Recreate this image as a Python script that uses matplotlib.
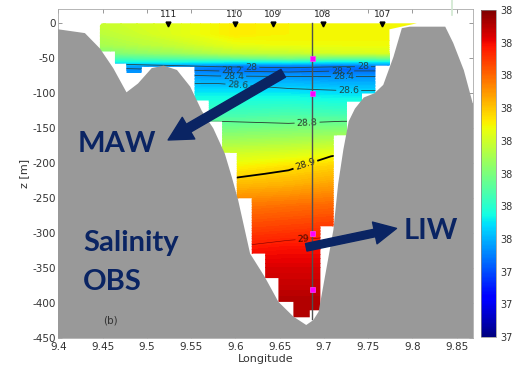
import numpy as np
import matplotlib
matplotlib.use('Agg')
import matplotlib.pyplot as plt
from matplotlib.patches import Polygon
from matplotlib.colors import Normalize
from matplotlib.cm import ScalarMappable
from matplotlib.lines import Line2D

plt.rcParams['axes.unicode_minus'] = False
plt.rcParams['font.family'] = ['DejaVu Sans']

# ---------------- data ----------------
grid_lon = [9.44, 9.53, 9.60, 9.66, 9.72, 9.82]
grid_z = [0, -15, -30, -42, -50, -55, -60, -66, -75, -90, -105, -130, -160,
          -185, -205, -230, -260, -290, -320, -350, -390, -440]
salinity = [
    [38.29, 38.32, 38.36, 38.35, 38.35, 38.35],
    [38.27, 38.32, 38.36, 38.35, 38.35, 38.35],
    [38.25, 38.29, 38.33, 38.34, 38.34, 38.34],
    [38.20, 38.24, 38.28, 38.29, 38.31, 38.32],
    [38.13, 38.15, 38.17, 38.19, 38.17, 38.18],
    [38.07, 38.07, 38.06, 38.07, 38.05, 38.06],
    [38.00, 37.98, 37.96, 37.96, 37.95, 37.97],
    [37.97, 37.95, 37.93, 37.93, 37.92, 37.94],
    [37.98, 37.98, 37.97, 37.97, 37.96, 37.97],
    [38.02, 38.02, 38.02, 38.02, 38.01, 38.01],
    [38.07, 38.07, 38.07, 38.07, 38.06, 38.06],
    [38.13, 38.13, 38.13, 38.14, 38.13, 38.13],
    [38.21, 38.22, 38.22, 38.23, 38.24, 38.24],
    [38.28, 38.29, 38.30, 38.31, 38.33, 38.33],
    [38.34, 38.35, 38.35, 38.37, 38.39, 38.39],
    [38.40, 38.40, 38.41, 38.42, 38.44, 38.44],
    [38.47, 38.47, 38.48, 38.49, 38.50, 38.50],
    [38.53, 38.53, 38.53, 38.54, 38.55, 38.55],
    [38.58, 38.58, 38.58, 38.59, 38.59, 38.59],
    [38.62, 38.62, 38.62, 38.62, 38.62, 38.62],
    [38.65, 38.65, 38.65, 38.65, 38.65, 38.65],
    [38.66, 38.66, 38.66, 38.66, 38.66, 38.66],
]

sig_lon = [9.44, 9.58, 9.66, 9.72, 9.82]
sig_z = [0, -45, -56, -62, -68, -76, -86, -96, -140, -190, -215, -310, -440]
sigma = [
    [27.00, 27.00, 27.00, 27.00, 27.00],
    [27.60, 27.60, 27.55, 27.55, 27.55],
    [27.95, 27.85, 27.80, 27.80, 27.80],
    [28.15, 28.00, 27.95, 28.00, 28.00],
    [28.35, 28.20, 28.15, 28.20, 28.20],
    [28.50, 28.42, 28.40, 28.40, 28.40],
    [28.60, 28.60, 28.55, 28.52, 28.52],
    [28.65, 28.65, 28.62, 28.60, 28.60],
    [28.80, 28.80, 28.795, 28.80, 28.80],
    [28.86, 28.86, 28.88, 28.905, 28.905],
    [28.89, 28.89, 28.905, 28.92, 28.92],
    [28.995, 28.995, 29.00, 29.005, 29.005],
    [29.05, 29.05, 29.05, 29.05, 29.05],
]
sigma_levels = [28.0, 28.2, 28.4, 28.6, 28.8, 28.9, 29.0]

# extent of the measured section (stepped)
data_lon = [9.449, 9.447, 9.447, 9.464, 9.464, 9.477, 9.477, 9.494, 9.494,
            9.554, 9.554, 9.570, 9.570, 9.585, 9.585, 9.6016, 9.6016, 9.6185,
            9.6185, 9.6336, 9.6336, 9.6486, 9.6486, 9.6655, 9.6655, 9.684,
            9.684, 9.696, 9.696, 9.711, 9.711, 9.726, 9.726, 9.743, 9.743,
            9.758, 9.758, 9.774, 9.774, 9.805]
data_z = [0, -3, -40, -40, -57, -57, -71, -71, -62, -62, -110, -110, -140,
          -140, -185, -185, -250, -250, -329, -329, -364, -364, -398, -398,
          -420, -420, -410, -410, -290, -290, -160, -160, -112, -112, -100,
          -100, -60, -60, -8.6, 0]

# bathymetry profile
bathy_lon = [9.400, 9.430, 9.447, 9.462, 9.477, 9.490, 9.5055, 9.519, 9.534,
             9.549, 9.562, 9.575, 9.588, 9.596, 9.603, 9.6166, 9.633, 9.6486,
             9.6655, 9.680, 9.688, 9.694, 9.7107, 9.716, 9.722, 9.728, 9.735,
             9.745, 9.757, 9.767, 9.7785, 9.788, 9.797, 9.837, 9.846, 9.858,
             9.868]
bathy_z = [-8.6, -14, -36, -64, -98.6, -86, -64, -60.5, -66.7, -90.5, -125,
           -150, -186, -220, -252, -329, -362, -398, -419, -431, -424, -412,
           -295, -230, -180, -140, -122, -106, -100, -88, -48, -7, -4.8, -4.8,
           -28, -67, -114]

station_names = ['111', '110', '109', '108', '107']
station_lon = [9.524, 9.599, 9.642, 9.699, 9.766]

mooring_lon = 9.6863
mooring_bottom = -422
instrument_z = [-50, -100, -300, -380]

lon_ticks = [9.4, 9.45, 9.5, 9.55, 9.6, 9.65, 9.7, 9.75, 9.8, 9.85]
lon_ticklabels = ['9.4', '9.45', '9.5', '9.55', '9.6', '9.65', '9.7', '9.75',
                  '9.8', '9.85']
z_ticks = [0, -50, -100, -150, -200, -250, -300, -350, -400, -450]

cbar_min, cbar_max = 37.7, 38.7
cbar_ticks = [37.7, 37.8, 37.9, 38.0, 38.1, 38.2, 38.3, 38.4, 38.5, 38.6, 38.7]
cbar_labels = ['37', '37', '37', '38', '38', '38', '38', '38', '38', '38', '38']

# ---------------- figure ----------------
navy = '#0a2463'
fig = plt.figure(figsize=(5.12, 3.69), dpi=100)
ax = fig.add_axes([0.1139, 0.0832, 0.8093, 0.8916])
ax.set_xlim(9.4, 9.868)
ax.set_ylim(-450, 20)

clip = Polygon(np.column_stack([data_lon, data_z]), closed=True,
               transform=ax.transData, facecolor='none', edgecolor='none')

levels = np.linspace(cbar_min, cbar_max, 161)
cf = ax.contourf(grid_lon, grid_z, np.array(salinity), levels=levels,
                 cmap='jet', extend='both', zorder=1, antialiased=False)
cf.set_clip_path(clip)

line_style = {28.0: ('#244848', 0.6), 28.2: ('#244848', 0.6),
              28.4: ('#244848', 0.6), 28.6: ('#244848', 0.6),
              28.8: ('#2a3a30', 0.6), 28.9: ('#000000', 1.3),
              29.0: ('#7a0000', 0.4)}
label_pos = {28.0: [(9.618, -63), (9.744, -64)],
             28.2: [(9.596, -68), (9.720, -68)],
             28.4: [(9.598, -75), (9.722, -76)],
             28.6: [(9.603, -86), (9.728, -96)],
             28.8: [(9.681, -143)],
             28.9: [(9.678, -198)],
             29.0: [(9.677, -311)]}
label_col = {28.0: '#1e4848', 28.2: '#1e4848', 28.4: '#1e4848',
             28.6: '#1e4848', 28.8: '#2a3a2a', 28.9: '#222222',
             29.0: '#3a0a00'}
S = np.array(sigma)
for lev in sigma_levels:
    col, lw = line_style[lev]
    cs = ax.contour(sig_lon, sig_z, S, levels=[lev], colors=[col],
                    linewidths=lw, zorder=2)
    cs.set_clip_path(clip)
    ax.clabel(cs, fmt=lambda v: f'{v:g}', fontsize=6.8, colors=label_col[lev],
              manual=label_pos[lev], inline=True, inline_spacing=2)

# bathymetry
poly_x = [9.38] + bathy_lon + [9.90, 9.90, 9.38]
poly_z = [bathy_z[0]] + bathy_z + [-114, -460, -460]
ax.add_patch(Polygon(np.column_stack([poly_x, poly_z]), closed=True,
                     facecolor='#999999', edgecolor='none', zorder=3))

# mooring line and instruments
ax.plot([mooring_lon, mooring_lon], [0, mooring_bottom], color='#505050',
        lw=1.0, zorder=4)
ax.plot([mooring_lon] * len(instrument_z), instrument_z, 's', color='#ff00ff',
        ms=3.6, mec='#ff40ff', mew=0.5, zorder=5)

# stations
ax.plot(station_lon, [-1] * len(station_lon), 'v', color='k', ms=3.5,
        zorder=5, clip_on=False)
for name, lon in zip(station_names, station_lon):
    ax.text(lon, 12, name, ha='center', va='center', fontsize=6.5,
            color='#222222', zorder=6)

# axes formatting
ax.set_xticks(lon_ticks)
ax.set_xticklabels(lon_ticklabels)
ax.set_yticks(z_ticks)
ax.tick_params(direction='in', top=True, right=True, length=3, width=0.6,
               color='#888888', labelsize=7.5, labelcolor='#333333')
ax.tick_params(axis='x', pad=3)
ax.tick_params(axis='y', pad=2)
for sp in ax.spines.values():
    sp.set_color('#aaaaaa')
    sp.set_linewidth(0.6)
ax.set_xlabel('Longitude', fontsize=8, color='#333333', labelpad=1)
ax.set_ylabel('z [m]', fontsize=8, color='#333333', labelpad=2)

ax.text(9.4585, -424, '(b)', ha='center', va='center', fontsize=7.5,
        color='#333333', zorder=6)

# annotations
big = dict(fontsize=21, fontweight='bold', color=navy,
           family=['Lato', 'DejaVu Sans'], zorder=8)
ax.text(9.4223, -184, 'MAW', ha='left', va='baseline', **big)
ax.text(9.428, -326, 'Salinity', ha='left', va='baseline', **big)
ax.text(9.428, -381, 'OBS', ha='left', va='baseline', **big)
ax.text(9.7895, -308, 'LIW', ha='left', va='baseline', **big)

ax.annotate('', xy=(9.524, -166.7), xytext=(9.654, -71.4),
            arrowprops=dict(arrowstyle='simple,head_length=1.7,head_width=1.8,tail_width=0.65',
                            color=navy, shrinkA=0, shrinkB=0, mutation_scale=10),
            zorder=8)
ax.annotate('', xy=(9.782, -293), xytext=(9.680, -320),
            arrowprops=dict(arrowstyle='simple,head_length=1.6,head_width=1.6,tail_width=0.55',
                            color=navy, shrinkA=0, shrinkB=0, mutation_scale=10),
            zorder=8)

# colorbar
cax = fig.add_axes([0.9389, 0.0867, 0.0299, 0.8862])
sm = ScalarMappable(norm=Normalize(cbar_min, cbar_max), cmap='jet')
cb = fig.colorbar(sm, cax=cax, ticks=cbar_ticks)
cb.ax.set_yticklabels(cbar_labels)
cb.ax.tick_params(length=0, labelsize=7, pad=3, labelcolor='#333333')
cb.outline.set_linewidth(0.5)
cb.outline.set_edgecolor('#888888')

fig.add_artist(Line2D([452 / 512, 452 / 512], [1.0, 1 - 15 / 369],
                      color='#cfe8cf', lw=1.2, transform=fig.transFigure))

fig.savefig('out.png', dpi=100)
